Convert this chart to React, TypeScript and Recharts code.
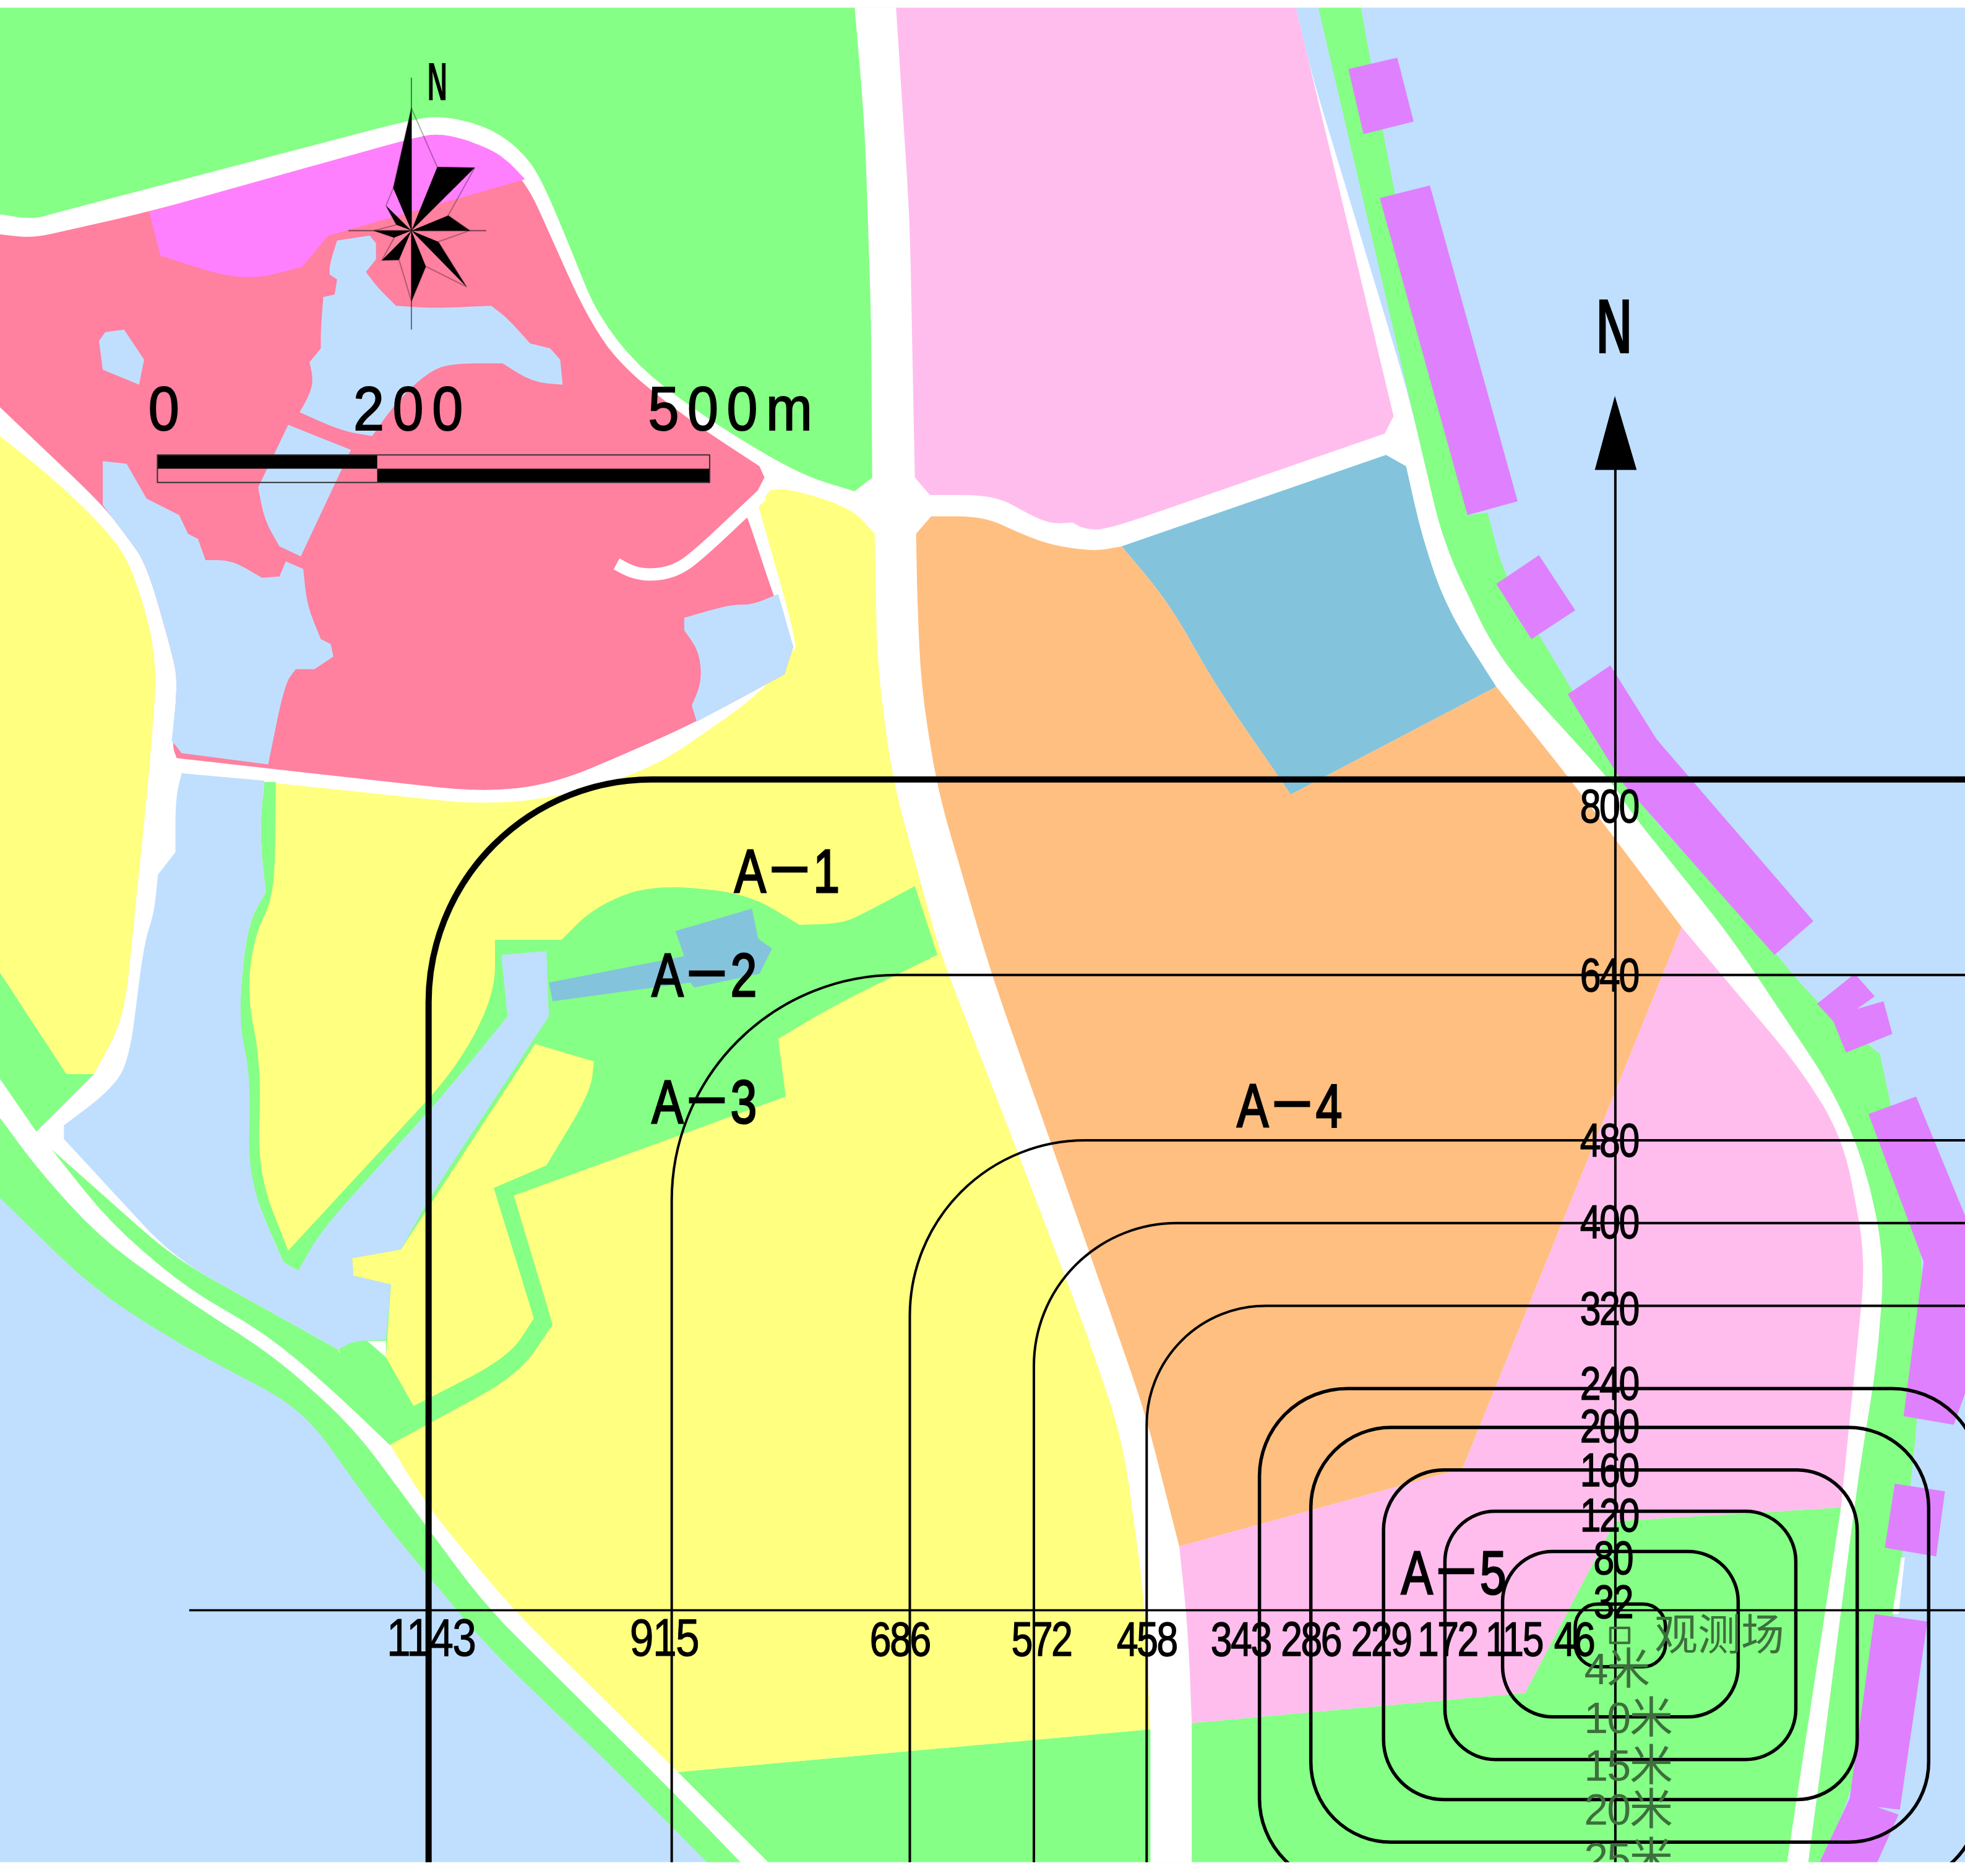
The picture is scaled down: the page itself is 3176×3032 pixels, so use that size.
import React from 'react';
import { ScatterChart, Scatter, XAxis, YAxis } from 'recharts';

type Pair = [number, number];

const WIDTH = 3176;
const HEIGHT = 3032;
// map units, the whole sheet is 1568 x 1497
const MAP_W = 1568;
const MAP_H = 1497;
const MAP_TOP = 6;
const MAP_BOTTOM = 1486;
const UNIT = WIDTH / MAP_W;

const COLORS = {
  water: '#c0dfff',
  green: '#85ff85',
  yellow: '#ffff80',
  red: '#ff809f',
  magenta: '#ff80ff',
  pink: '#ffbdee',
  orange: '#ffbf80',
  teal: '#84c3dc',
  purple: '#df80ff',
  white: '#ffffff',
  label: '#000000',
  note: '#3d6f3d',
};

// land use parcels
const WATER: Pair[] = [[0, MAP_TOP], [1568, MAP_TOP], [1568, MAP_BOTTOM], [0, MAP_BOTTOM]];
const COAST_GREEN_SW: Pair[] = [[0, 892], [31, 934], [79, 987], [145, 1035], [220, 1083], [282, 1139], [344, 1223], [388, 1282], [538, 1431], [591, 1486], [564, 1486], [498, 1419], [388, 1313], [304, 1212], [242, 1125], [137, 1069], [73, 1027], [0, 956]];
const ROADS: Pair[] = [[0, 6], [1034, 6], [1046, 57], [1124, 315], [1152, 434], [1195, 524], [1288, 626], [1299, 645], [1380, 746], [1463, 870], [1489, 931], [1504, 1004], [1498, 1086], [1483, 1178], [1454, 1403], [1443, 1486], [591, 1486], [538, 1431], [388, 1282], [344, 1223], [282, 1139], [220, 1083], [145, 1035], [79, 987], [31, 934], [0, 892]];
const COAST_GREEN_INNER: Pair[] = [[41, 917], [139, 1004], [270, 1077], [291, 1070], [308, 1083], [330, 1122], [311, 1153], [264, 1108], [211, 1063], [150, 1029], [88, 976]];
const GREEN_NORTH: Pair[] = [[0, 6], [682, 6], [690, 100], [695, 250], [696, 381], [682, 392], [639, 379], [573, 340], [511, 295], [476, 250], [458, 205], [434, 147], [419, 123], [392, 102], [353, 92], [326, 96], [44, 170], [26, 175], [0, 171]];
const GREEN_WEST: Pair[] = [[0, 776], [53, 857], [75, 857], [29, 903], [0, 861]];
const GREEN_SOUTH: Pair[] = [[541, 1414], [918, 1380], [918, 1486], [613, 1486]];
const GREEN_EAST: Pair[] = [[1052, 6], [1086, 6], [1112, 151], [1171, 411], [1187, 409], [1201, 462], [1253, 548], [1305, 638], [1414, 757], [1450, 801], [1500, 841], [1535, 1004], [1530, 1136], [1518, 1241], [1512, 1288], [1476, 1435], [1452, 1486], [1443, 1486], [1454, 1403], [1483, 1178], [1498, 1086], [1504, 1004], [1489, 931], [1463, 870], [1380, 746], [1299, 645], [1288, 626], [1195, 524], [1152, 434], [1124, 315]];
const YELLOW_WEST: Pair[] = [[0, 348], [44, 383], [88, 426], [106, 454], [126, 524], [119, 617], [99, 813], [75, 857], [53, 857], [0, 776]];
const YELLOW_SOUTH: Pair[] = [[220, 625], [383, 642], [441, 637], [520, 614], [608, 553], [635, 516], [630, 491], [605, 403], [615, 391], [630, 390], [679, 405], [698, 426], [700, 530], [712, 622], [750, 760], [810, 914], [868, 1066], [896, 1150], [913, 1274], [918, 1380], [541, 1414], [410, 1285], [344, 1206], [311, 1153], [270, 1077], [226, 1003], [200, 940], [192, 800], [205, 700]];
const PARK_GREEN: Pair[] = [[211, 624], [220, 624], [219, 715], [203, 746], [197, 794], [208, 847], [206, 937], [230, 998], [364, 853], [395, 794], [395, 750], [448, 750], [474, 724], [518, 706], [595, 712], [638, 738], [672, 737], [691, 728], [730, 707], [748, 762], [666, 802], [621, 829], [627, 875], [410, 954], [441, 1057], [414, 1097], [311, 1153], [270, 1077], [238, 1014], [226, 1007], [198, 942], [190, 813], [197, 739], [212, 712], [207, 662]];
const PARK_TOE: Pair[] = [[262, 1085], [291, 1070], [330, 1122], [311, 1153]];
const PARK_TEAL: Pair[] = [[539, 743], [600, 725], [605, 749], [616, 757], [606, 777], [554, 788], [551, 784], [441, 799], [438, 784], [546, 763]];
const YELLOW_PATCH: Pair[] = [[427, 833], [474, 847], [471, 872], [436, 930], [394, 948], [426, 1052], [406, 1083], [330, 1122], [308, 1083], [312, 1025], [282, 1018], [281, 1004], [320, 997]];
const LAKE: Pair[] = [[145, 617], [211, 623], [207, 662], [212, 712], [197, 739], [190, 813], [200, 858], [198, 942], [226, 1007], [238, 1014], [256, 982], [357, 870], [405, 811], [400, 762], [436, 759], [438, 811], [344, 954], [320, 997], [281, 1004], [282, 1018], [312, 1025], [308, 1069], [282, 1070], [270, 1077], [139, 1004], [51, 909], [51, 898], [88, 870], [103, 847], [115, 752], [123, 729], [126, 698], [140, 680], [140, 637]];
const LAKE_SLIVER: Pair[] = [[293, 1070], [308, 1070], [308, 1083]];
const RED_PARK: Pair[] = [[0, 187], [26, 190], [57, 183], [119, 169], [330, 110], [353, 106], [388, 117], [419, 143], [441, 192], [467, 250], [494, 291], [551, 336], [606, 372], [610, 381], [595, 410], [599, 420], [617, 475], [633, 516], [626, 538], [560, 574], [507, 598], [441, 626], [383, 632], [141, 605], [137, 594], [142, 544], [137, 520], [117, 450], [101, 428], [82, 403], [0, 325]];
const MAGENTA: Pair[] = [[119, 169], [330, 110], [353, 106], [388, 117], [405, 128], [419, 143], [262, 188], [241, 213], [194, 225], [128, 204]];
const POND_NORTH: Pair[] = [[269, 192], [295, 188], [300, 194], [300, 207], [292, 217], [301, 229], [316, 244], [346, 246], [392, 244], [405, 254], [423, 274], [439, 278], [447, 287], [449, 307], [425, 305], [401, 290], [359, 290], [342, 297], [322, 315], [308, 332], [297, 348], [273, 344], [239, 329], [247, 315], [250, 303], [247, 289], [256, 278], [256, 262], [258, 237], [267, 235], [269, 223], [263, 219], [263, 211]];
const POND_SMALL: Pair[] = [[79, 272], [84, 265], [99, 263], [115, 287], [111, 307], [82, 295]];
const POND_MIDDLE: Pair[] = [[230, 339], [280, 359], [240, 444], [223, 436], [211, 415], [206, 389]];
const POND_WEST: Pair[] = [[82, 368], [101, 370], [117, 398], [143, 411], [150, 426], [158, 430], [164, 447], [185, 447], [209, 461], [223, 460], [228, 448], [242, 454], [245, 483], [256, 510], [264, 514], [266, 524], [251, 534], [236, 534], [227, 546], [214, 610], [145, 601], [137, 591], [142, 544], [137, 520], [117, 450], [101, 428], [82, 403]];
const POND_EAST: Pair[] = [[546, 493], [584, 482], [599, 483], [621, 474], [633, 516], [626, 538], [556, 576], [552, 563], [560, 544], [558, 520], [546, 503]];
const PINK_NORTH: Pair[] = [[715, 6], [726, 176], [730, 381], [742, 395], [794, 395], [822, 411], [839, 418], [856, 417], [865, 422], [882, 423], [1105, 346], [1112, 332], [1034, 6]];
const TEAL_NORTH: Pair[] = [[895, 436], [1106, 363], [1122, 372], [1135, 430], [1155, 487], [1194, 548], [1030, 634], [968, 544], [933, 481]];
const ORANGE: Pair[] = [[731, 426], [743, 412], [785, 412], [815, 426], [839, 435], [873, 440], [895, 436], [933, 481], [968, 544], [1030, 634], [1194, 548], [1253, 622], [1342, 740], [1167, 1172], [941, 1234], [914, 1128], [865, 987], [790, 774], [748, 630], [735, 548], [732, 480]];
const PINK_SOUTH: Pair[] = [[1342, 740], [1437, 853], [1471, 909], [1489, 1004], [1469, 1203], [1289, 1214], [1283, 1225], [1217, 1351], [951, 1375], [948, 1300], [941, 1234], [1167, 1172]];
const GREEN_SE: Pair[] = [[951, 1375], [1217, 1351], [1283, 1225], [1289, 1214], [1469, 1203], [1426, 1486], [951, 1486]];
const PURPLE_BLOCKS: Pair[][] = [
  [[1076, 55], [1115, 46], [1128, 97], [1088, 107]],
  [[1101, 158], [1141, 148], [1211, 400], [1171, 411]],
  [[1194, 466], [1228, 443], [1257, 487], [1222, 510]],
  [[1251, 554], [1285, 531], [1322, 590], [1447, 735], [1416, 762], [1295, 625]],
  [[1450, 801], [1480, 777], [1496, 795], [1482, 805], [1503, 799], [1510, 825], [1473, 840], [1463, 815]],
  [[1491, 889], [1529, 875], [1568, 970], [1568, 1112], [1559, 1137], [1519, 1130], [1535, 1007]],
  [[1512, 1184], [1552, 1190], [1545, 1242], [1504, 1235]],
  [[1496, 1288], [1538, 1294], [1516, 1444], [1498, 1442], [1515, 1448], [1498, 1486], [1452, 1486], [1476, 1435]],
];
const ROAD_STUB: Pair[] = [[608, 395], [555, 445], [538, 456], [520, 459], [505, 457], [492, 450]];
const COAST_SLIVER: Pair[] = [[1517, 1243], [1520, 1243], [1515, 1288], [1510, 1288]];

// contours around the station, widest first
const CONTOUR_LEFT = [342, 536, 726, 825, 915, 1005, 1046, 1104, 1153, 1199, 1257];
const CONTOUR_TOP = [622, 778, 910, 976, 1042, 1108, 1139, 1173, 1206, 1238, 1280];
const CONTOUR_RIGHT = [1760, 1760, 1760, 1760, 1760, 1580, 1539, 1482, 1433, 1387, 1329];
const CONTOUR_BOTTOM = [1700, 1700, 1700, 1700, 1700, 1505, 1470, 1436, 1404, 1370, 1330];
const CONTOUR_RADIUS = [178, 180, 140, 114, 95, 70, 64, 48, 40, 40, 18];

const AXIS_X: Pair[] = [[151, 1285], [1568, 1285]];
const AXIS_Y: Pair[] = [[1289, 370], [1289, 1486]];
const ARROW: Pair[] = [[1288.6, 316], [1306, 375], [1272.6, 375]];
const STATION: Pair[] = [[1285, 1299], [1300, 1299], [1300, 1311], [1285, 1311]];

// wind rose, one blade per direction
const ROSE_CENTER: Pair = [328.3, 184];
const ROSE_BLADES: Pair[][] = [
  [[328.3, 86.4], [313.8, 150.1]],
  [[348.9, 133.3], [378.8, 133.8]],
  [[357.6, 172], [374.9, 184]],
  [[349.7, 192.9], [372.2, 228.8]],
  [[339.8, 212.6], [328.3, 240.3]],
  [[318.4, 207.4], [304.7, 207.7]],
  [[314.6, 189.6], [298.2, 184]],
  [[316.3, 179.4], [308, 164.1]],
];
const ROSE_OUTLINE: Pair[] = [[328.3, 86.4], [348.9, 133.3], [378.8, 133.8], [357.6, 172], [374.9, 184], [349.7, 192.9], [372.2, 228.8], [339.8, 212.6], [328.3, 240.3], [318.4, 207.4], [304.7, 207.7], [314.6, 189.6], [298.2, 184], [316.3, 179.4], [308, 164.1], [313.8, 150.1]];
const ROSE_NS: Pair[] = [[328.3, 62], [328.3, 263]];
const ROSE_EW: Pair[] = [[278, 184], [388, 184]];

// scale bar
const BAR_OUTLINE: Pair[] = [[125.6, 363], [566.3, 363], [566.3, 385], [125.6, 385]];
const BAR_BLACK_LEFT: Pair[] = [[125.6, 363], [301, 363], [301, 374], [125.6, 374]];
const BAR_BLACK_RIGHT: Pair[] = [[301, 374], [566.3, 374], [566.3, 385], [301, 385]];

type Label = { x: number; y: number; label: string };
const SCALE_LABELS: Label[] = [
  { x: 134, y: 343, label: '0' },
  { x: 329, y: 343, label: '200' },
  { x: 586, y: 343, label: '500m' },
];
const ZONE_LABELS: Label[] = [
  { x: 628, y: 712, label: 'A－1' },
  { x: 562, y: 795, label: 'A－2' },
  { x: 562, y: 896, label: 'A－3' },
  { x: 1029, y: 899, label: 'A－4' },
  { x: 1160, y: 1272, label: 'A－5' },
];
const X_LABELS_LARGE: Label[] = [
  { x: 344, y: 1321, label: '1143' },
  { x: 530, y: 1321, label: '915' },
];
const X_LABELS: Label[] = [
  { x: 718, y: 1321, label: '686' },
  { x: 831, y: 1321, label: '572' },
  { x: 915, y: 1321, label: '458' },
  { x: 990, y: 1321, label: '343' },
  { x: 1046, y: 1321, label: '286' },
  { x: 1102, y: 1321, label: '229' },
  { x: 1155, y: 1321, label: '172' },
  { x: 1208, y: 1321, label: '115' },
  { x: 1256, y: 1321, label: '46' },
];
const Y_LABELS: Label[] = [
  { x: 1284, y: 656, label: '800' },
  { x: 1284, y: 791, label: '640' },
  { x: 1284, y: 923, label: '480' },
  { x: 1284, y: 988, label: '400' },
  { x: 1284, y: 1057, label: '320' },
  { x: 1284, y: 1117, label: '240' },
  { x: 1284, y: 1151, label: '200' },
  { x: 1284, y: 1186, label: '160' },
  { x: 1284, y: 1222, label: '120' },
  { x: 1287, y: 1256, label: '80' },
  { x: 1287, y: 1291, label: '32' },
];
const HEIGHT_LABELS: Label[] = [
  { x: 1290, y: 1344, label: '4米' },
  { x: 1299, y: 1383, label: '10米' },
  { x: 1299, y: 1421, label: '15米' },
  { x: 1299, y: 1456, label: '20米' },
  { x: 1299, y: 1495, label: '25米' },
];
const STATION_LABEL: Label[] = [{ x: 1372, y: 1317, label: '观测场' }];
const NORTH_BIG: Label[] = [{ x: 1288, y: 282, label: 'N' }];
const NORTH_SMALL: Label[] = [{ x: 349, y: 80, label: 'N' }];

const toPoints = (pairs: Pair[]) => pairs.map(([x, y]) => ({ x, y }));

const hidden = () => <g />;

const FONT = '"Liberation Sans", "Noto Sans CJK SC", sans-serif';

// gentle bends get rounded so the roads read as curves, real corners stay sharp
const BEND_LIMIT = (32 * Math.PI) / 180;
const BEND_REACH = 70;

const onMapEdge = (p: { x: number; y: number }) =>
  p.x <= 0.5 ||
  p.x >= WIDTH - 0.5 ||
  p.y <= MAP_TOP * UNIT + 0.5 ||
  p.y >= MAP_BOTTOM * UNIT - 0.5;

const outline = (pts: { x: number; y: number }[], closed: boolean, sharp: boolean) => {
  const n = pts.length;
  let d = '';
  pts.forEach((p, i) => {
    if (!closed && (i === 0 || i === n - 1)) {
      d += `${i === 0 ? 'M' : 'L'}${p.x},${p.y}`;
      return;
    }
    const prev = pts[(i - 1 + n) % n];
    const next = pts[(i + 1) % n];
    const a1 = Math.atan2(p.y - prev.y, p.x - prev.x);
    const a2 = Math.atan2(next.y - p.y, next.x - p.x);
    let turn = Math.abs(a2 - a1);
    if (turn > Math.PI) turn = 2 * Math.PI - turn;
    const cmd = d === '' ? 'M' : 'L';
    if (sharp || turn > BEND_LIMIT || onMapEdge(p)) {
      d += `${cmd}${p.x},${p.y}`;
      return;
    }
    const lenPrev = Math.hypot(p.x - prev.x, p.y - prev.y);
    const lenNext = Math.hypot(next.x - p.x, next.y - p.y);
    const r1 = Math.min(lenPrev / 2, BEND_REACH) / (lenPrev || 1);
    const r2 = Math.min(lenNext / 2, BEND_REACH) / (lenNext || 1);
    d += `${cmd}${p.x - (p.x - prev.x) * r1},${p.y - (p.y - prev.y) * r1}`;
    d += `Q${p.x},${p.y} ${p.x + (next.x - p.x) * r2},${p.y + (next.y - p.y) * r2}`;
  });
  return d + (closed ? 'Z' : '');
};

// polygon through the chart scales
const Area2 = (
  pairs: Pair[],
  fill: string,
  stroke = 'none',
  strokeWidth = 0,
  closed = true,
  key?: string,
  sharp = false,
) => (
  <Scatter
    key={key}
    data={toPoints(pairs)}
    isAnimationActive={false}
    shape={hidden}
    line={(p: any) => (
      <path
        d={outline(p.points, closed, sharp)}
        fill={fill}
        stroke={stroke}
        strokeWidth={strokeWidth}
        strokeLinejoin="round"
      />
    )}
  />
);

// rounded rectangle, corners come through the scales
const Contour = (i: number) => {
  const l = CONTOUR_LEFT[i];
  const t = CONTOUR_TOP[i];
  const rt = CONTOUR_RIGHT[i];
  const b = CONTOUR_BOTTOM[i];
  const corners: Pair[] = [[l, t], [rt, t], [rt, b], [l, b]];
  const r = CONTOUR_RADIUS[i] * UNIT;
  return (
    <Scatter
      key={`contour-${i}`}
      data={toPoints(corners)}
      isAnimationActive={false}
      shape={hidden}
      line={(p: any) => {
        const [a, c, d, e] = p.points;
        const path =
          `M${a.x + r},${a.y}L${c.x - r},${c.y}A${r},${r} 0 0 1 ${c.x},${c.y + r}` +
          `L${d.x},${d.y - r}A${r},${r} 0 0 1 ${d.x - r},${d.y}` +
          `L${e.x + r},${e.y}A${r},${r} 0 0 1 ${e.x},${e.y - r}` +
          `L${a.x},${a.y + r}A${r},${r} 0 0 1 ${a.x + r},${a.y}Z`;
        return <path d={path} fill="none" stroke="#000" strokeWidth={i === 0 ? 10 : i >= 5 ? 5.5 : 4} />;
      }}
    />
  );
};

const Texts = (
  data: Label[],
  size: number,
  opts: { sx?: number; spacing?: number; fill?: string; weight?: number; bold?: number } = {},
) => (
  <Scatter
    data={data}
    isAnimationActive={false}
    shape={(p: any) => (
      <text
        transform={`translate(${p.cx},${p.cy}) scale(${opts.sx ?? 1},1)`}
        textAnchor="middle"
        fontFamily={FONT}
        fontSize={size}
        fontWeight={opts.weight ?? 400}
        letterSpacing={opts.spacing ?? 0}
        fill={opts.fill ?? COLORS.label}
        stroke={opts.bold ? opts.fill ?? COLORS.label : 'none'}
        strokeWidth={opts.bold ?? 0}
      >
        {p.payload.label}
      </text>
    )}
  />
);

export default function App() {
  return (
    <div style={{ position: 'absolute', left: 0, top: 0, width: WIDTH, height: HEIGHT, background: '#fff' }}>
      <ScatterChart width={WIDTH} height={HEIGHT} margin={{ top: 0, right: 0, bottom: 0, left: 0 }}>
        <XAxis type="number" dataKey="x" domain={[0, MAP_W]} allowDataOverflow hide />
        <YAxis type="number" dataKey="y" domain={[0, MAP_H]} reversed allowDataOverflow hide />

        {Area2(WATER, COLORS.water)}
        {Area2(COAST_GREEN_SW, COLORS.green)}
        {Area2(ROADS, COLORS.white)}
        {Area2(COAST_GREEN_INNER, COLORS.green)}
        {Area2(GREEN_NORTH, COLORS.green)}
        {Area2(GREEN_WEST, COLORS.green)}
        {Area2(GREEN_SOUTH, COLORS.green)}
        {Area2(GREEN_EAST, COLORS.green)}
        {Area2(COAST_SLIVER, COLORS.white)}
        {Area2(YELLOW_WEST, COLORS.yellow)}
        {Area2(YELLOW_SOUTH, COLORS.yellow)}
        {Area2(PARK_GREEN, COLORS.green)}
        {Area2(PARK_TOE, COLORS.green, 'none', 0, true, undefined, true)}
        {Area2(PARK_TEAL, COLORS.teal)}
        {Area2(YELLOW_PATCH, COLORS.yellow)}
        {Area2(LAKE, COLORS.water)}
        {Area2(LAKE_SLIVER, COLORS.white)}
        {Area2(RED_PARK, COLORS.red)}
        {Area2(MAGENTA, COLORS.magenta)}
        {Area2(POND_NORTH, COLORS.water)}
        {Area2(POND_SMALL, COLORS.water)}
        {Area2(POND_MIDDLE, COLORS.water)}
        {Area2(POND_WEST, COLORS.water)}
        {Area2(POND_EAST, COLORS.water)}
        {Area2(ROAD_STUB, 'none', COLORS.white, 20, false)}
        {Area2(PINK_NORTH, COLORS.pink)}
        {Area2(TEAL_NORTH, COLORS.teal)}
        {Area2(ORANGE, COLORS.orange)}
        {Area2(PINK_SOUTH, COLORS.pink)}
        {Area2(GREEN_SE, COLORS.green)}
        {PURPLE_BLOCKS.map((block, i) => Area2(block, COLORS.purple, 'none', 0, true, `block-${i}`, true))}

        {CONTOUR_LEFT.map((_, i) => Contour(i))}
        {Area2(AXIS_X, 'none', '#000', 3.5, false)}
        {Area2(AXIS_Y, 'none', '#000', 4, false)}
        {Area2(ARROW, '#000', 'none', 0, true, undefined, true)}
        {Area2(STATION, 'none', COLORS.note, 4, true, undefined, true)}

        {Area2(ROSE_OUTLINE, 'none', 'rgba(0,0,0,0.3)', 2, true, undefined, true)}
        {Area2(ROSE_NS, 'none', 'rgba(0,0,0,0.5)', 2, false)}
        {Area2(ROSE_EW, 'none', 'rgba(0,0,0,0.5)', 2, false)}
        {ROSE_BLADES.map((blade, i) => Area2([ROSE_CENTER, ...blade], '#000', 'none', 0, true, `blade-${i}`, true))}

        {Area2(BAR_BLACK_LEFT, '#000', 'none', 0, true, undefined, true)}
        {Area2(BAR_BLACK_RIGHT, '#000', 'none', 0, true, undefined, true)}
        {Area2(BAR_OUTLINE, 'none', '#333', 2, true, undefined, true)}

        {Texts(SCALE_LABELS, 100, { sx: 0.9, spacing: 15, bold: 2 })}
        {Texts(ZONE_LABELS, 98, { sx: 0.78, bold: 3 })}
        {Texts(X_LABELS_LARGE, 86, { sx: 0.81, spacing: -2, bold: 1 })}
        {Texts(X_LABELS, 78, { sx: 0.8, spacing: -3, bold: 1.5 })}
        {Texts(Y_LABELS, 76, { sx: 0.8, spacing: -3, bold: 1.5 })}
        {Texts(HEIGHT_LABELS, 70, { fill: COLORS.note, spacing: -2 })}
        {Texts(STATION_LABEL, 70, { fill: COLORS.note })}
        {Texts(NORTH_BIG, 127, { sx: 0.64, weight: 700 })}
        {Texts(NORTH_SMALL, 87, { sx: 0.52, weight: 700 })}

        {Area2([[0, 0], [MAP_W, 0], [MAP_W, MAP_TOP], [0, MAP_TOP]], COLORS.white, 'none', 0, true, undefined, true)}
        {Area2([[0, MAP_BOTTOM], [MAP_W, MAP_BOTTOM], [MAP_W, MAP_H], [0, MAP_H]], COLORS.white, 'none', 0, true, undefined, true)}
      </ScatterChart>
    </div>
  );
}
